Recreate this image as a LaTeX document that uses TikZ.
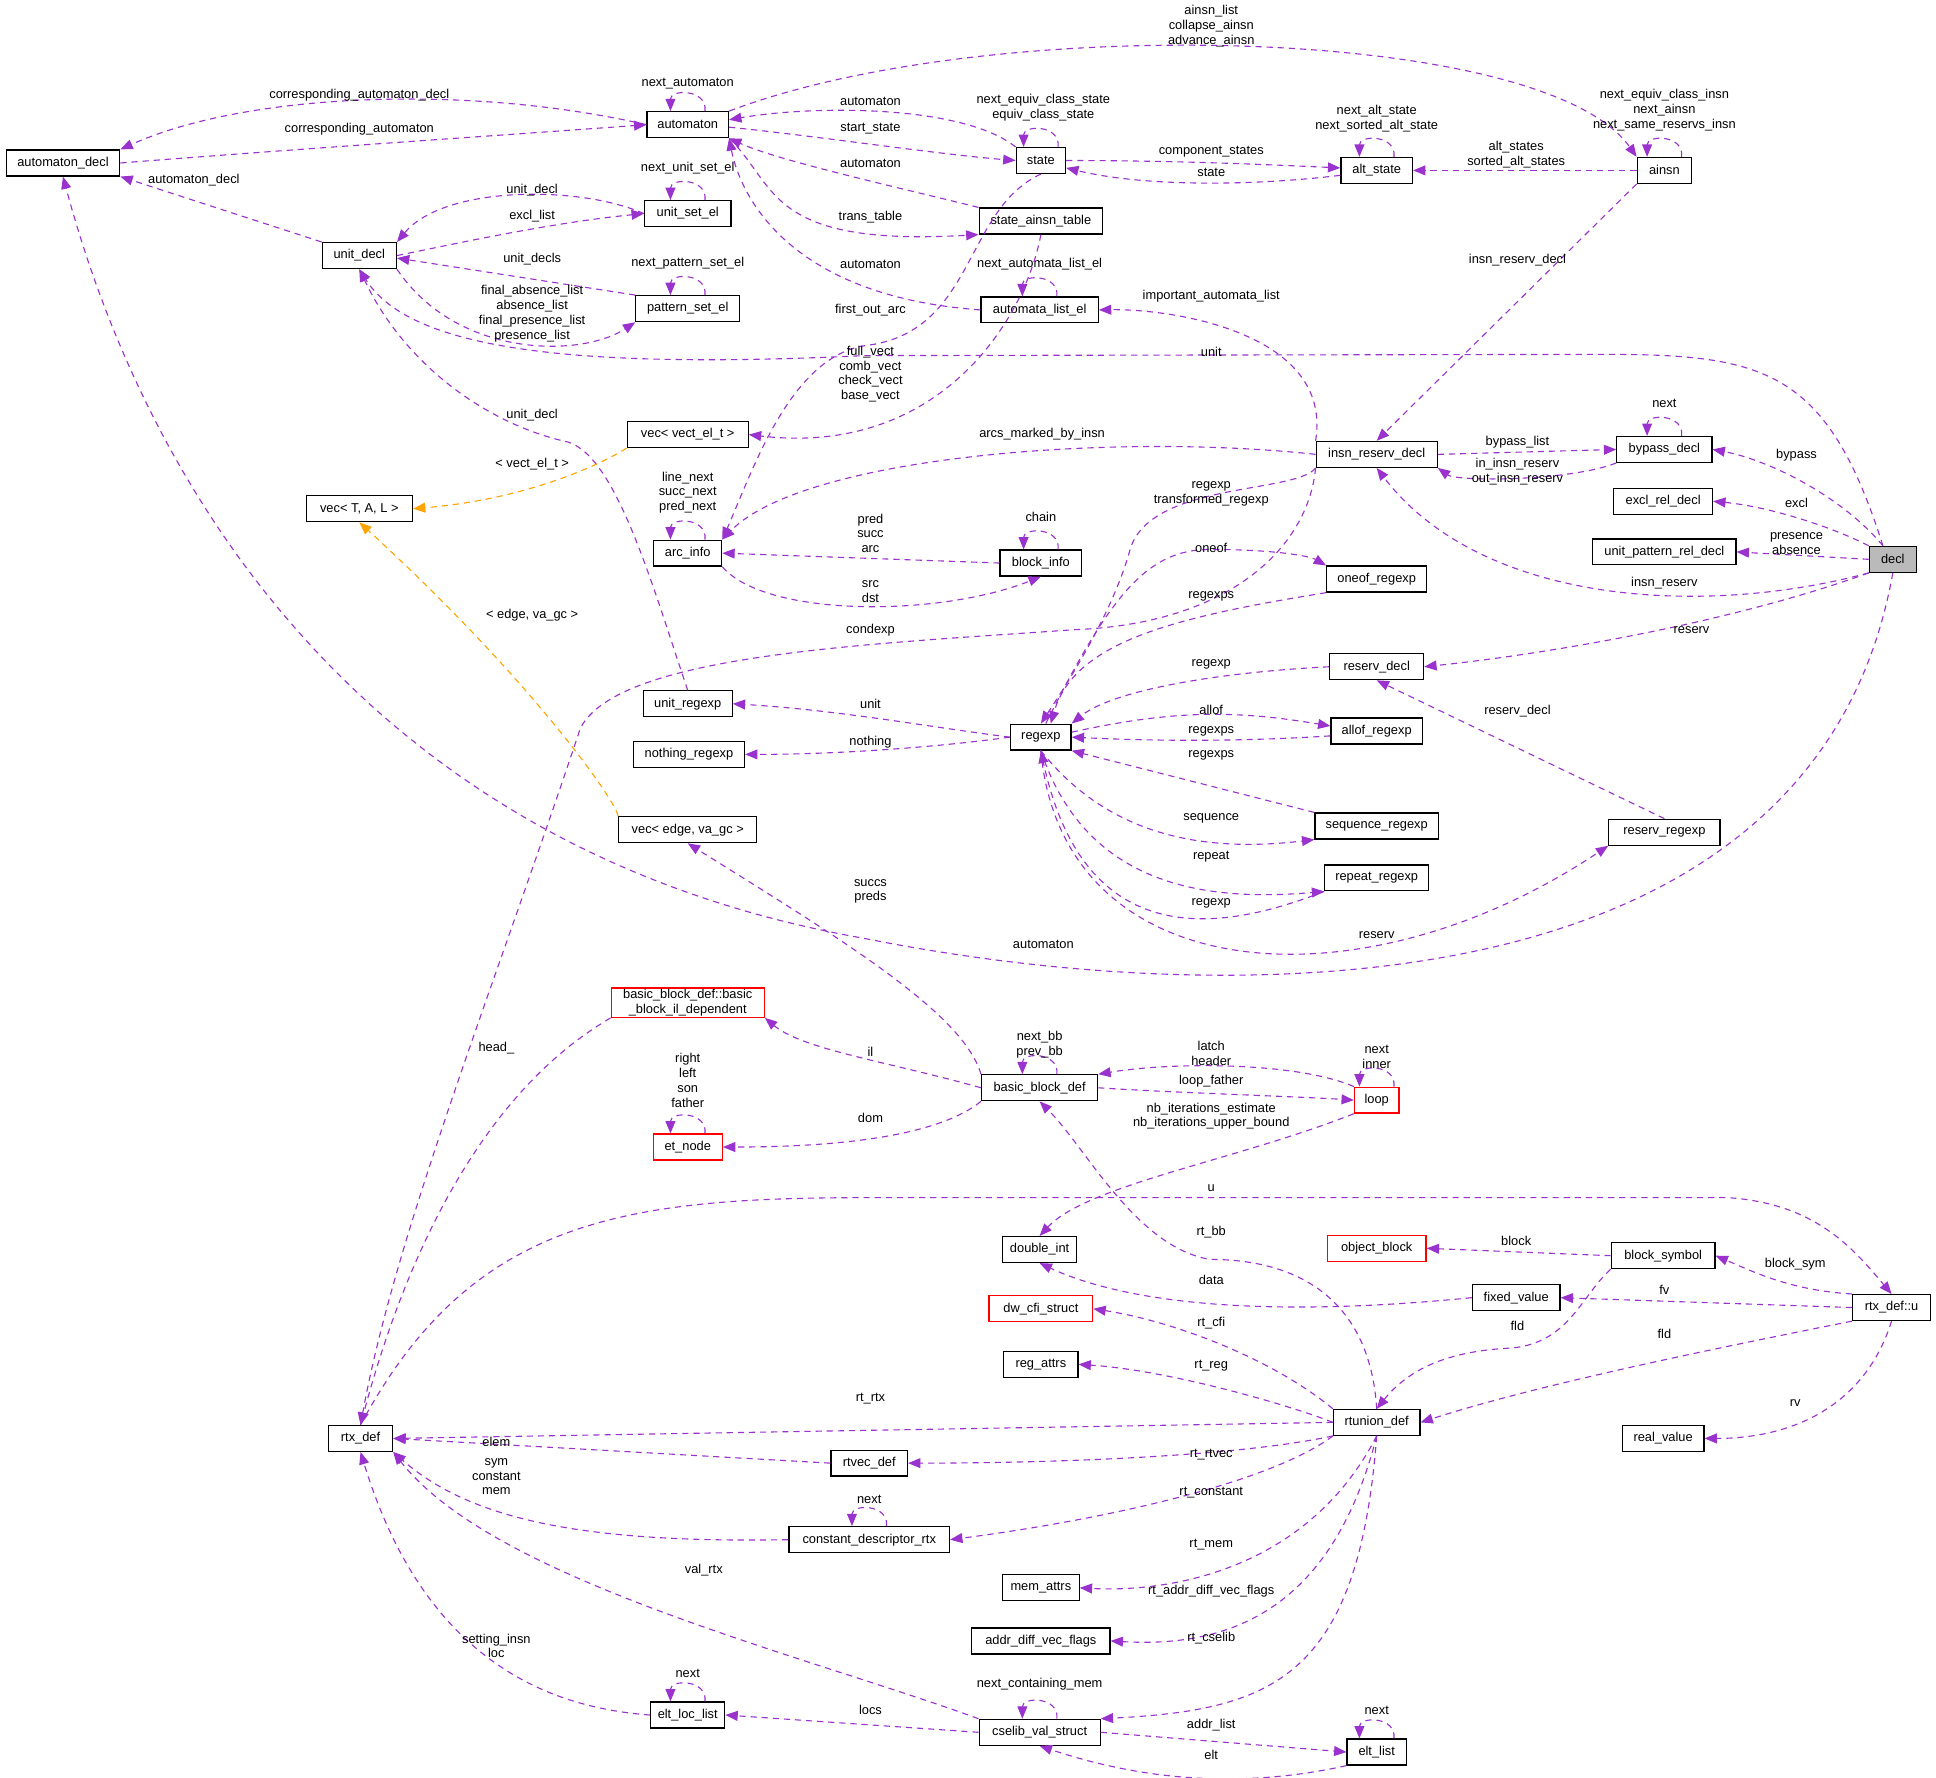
\documentclass[tikz,border=0pt]{standalone}
\usepackage{fontspec}
\setmainfont{Liberation Sans}
\usetikzlibrary{arrows.meta}
\definecolor{pc}{HTML}{9A32CD}
\definecolor{oc}{HTML}{FFA500}
\definecolor{rc}{HTML}{FF0000}
\tikzset{
 box/.style={draw,line width=0.5pt,minimum height=10.5pt,inner sep=0.5pt,font=\fontsize{5.2}{6}\selectfont,fill=white,align=center},
 rbox/.style={box,draw=rc},
 e/.style={draw=pc,dashed,dash pattern=on 2.5pt off 2pt,line width=0.45pt,-{Triangle[width=4pt,length=5pt]}},
 eo/.style={e,draw=oc,-{Triangle[width=4pt,length=5pt,fill=oc]}},
 lbl/.style={font=\fontsize{5.2}{6}\selectfont,align=center,inner sep=0},
}
\newcommand\B[5]{\node[box,minimum width=#4*0.5pt] (#1) at (#2,#3) {#5};}
\newcommand\RB[5]{\node[rbox,minimum width=#4*0.5pt] (#1) at (#2,#3) {#5};}
\newcommand\Lb[4]{\node[lbl] (#1) at (#2,#3) {#4};}
\newcommand\SL[1]{\draw[e] ([xshift=7pt]#1.north) .. controls +(1pt,9pt) and +(0pt,9pt) .. ([xshift=-7pt]#1.north);}
\begin{document}
\begin{tikzpicture}[x=0.5pt,y=-0.5pt]
\useasboundingbox[fill=white] (0,0) rectangle (1568,1440);
% nodes
\B{automatondecl}{51}{132}{92}{automaton\_decl}
\B{automaton}{557}{101}{66}{automaton}
\B{state}{843}{130}{40}{state}
\B{altstate}{1115}{138}{58}{alt\_state}
\B{ainsn}{1348}{138}{44}{ainsn}
\B{unitsetel}{557}{173}{70}{unit\_set\_el}
\B{unitdecl}{291}{207}{60}{unit\_decl}
\B{patternsetel}{557}{250}{84}{pattern\_set\_el}
\B{sat}{843}{179}{100}{state\_ainsn\_table}
\B{ale}{842}{251}{95}{automata\_list\_el}
\B{vecvect}{557}{352}{98}{vec< vect\_el\_t >}
\B{vectal}{291}{412}{86}{vec< T, A, L >}
\B{ird}{1115}{368}{98}{insn\_reserv\_decl}
\B{bypass}{1348}{364}{77}{bypass\_decl}
\B{excl}{1347}{406}{80}{excl\_rel\_decl}
\B{upr}{1348}{447}{116}{unit\_pattern\_rel\_decl}
\node[box,fill=black!27,minimum width=19pt] (decl) at (1533,453) {decl};
\B{arcinfo}{557}{448}{55}{arc\_info}
\B{blockinfo}{843}{456}{66}{block\_info}
\B{oneof}{1115}{469}{81}{oneof\_regexp}
\B{reservdecl}{1115}{540}{76}{reserv\_decl}
\B{unitregexp}{557}{570}{72}{unit\_regexp}
\B{nothing}{558}{611}{90}{nothing\_regexp}
\B{regexp}{843}{597}{49}{regexp}
\B{allof}{1115}{592}{74}{allof\_regexp}
\B{sequence}{1115}{669}{100}{sequence\_regexp}
\B{reservregexp}{1348}{674}{90}{reserv\_regexp}
\B{vecedge}{557}{672}{112}{vec< edge, va\_gc >}
\B{repeat}{1115}{711}{84}{repeat\_regexp}
\RB{bbil}{557}{812}{124}{basic\_block\_def::basic\\\_block\_il\_dependent}
\B{bbd}{842}{881}{94}{basic\_block\_def}
\RB{loop}{1115}{891}{36}{loop}
\RB{etnode}{557}{929}{56}{et\_node}
\B{doubleint}{842}{1012}{60}{double\_int}
\RB{objblock}{1115}{1011}{80}{object\_block}
\B{blocksym}{1347}{1017}{84}{block\_symbol}
\B{fixed}{1228}{1051}{71}{fixed\_value}
\B{rtxu}{1532}{1059}{63}{rtx\_def::u}
\RB{dwcfi}{843}{1060}{84}{dw\_cfi\_struct}
\B{regattrs}{843}{1105}{60}{reg\_attrs}
\B{rtunion}{1115}{1152}{70}{rtunion\_def}
\B{realvalue}{1347}{1165}{66}{real\_value}
\B{rtxdef}{292}{1165}{52}{rtx\_def}
\B{rtvec}{704}{1185}{62}{rtvec\_def}
\B{cdr}{704}{1247}{130}{constant\_descriptor\_rtx}
\B{memattrs}{843}{1286}{62}{mem\_attrs}
\B{adv}{843}{1329}{112}{addr\_diff\_vec\_flags}
\B{eltloc}{557}{1389}{60}{elt\_loc\_list}
\B{cselib}{842}{1403}{98}{cselib\_val\_struct}
\B{eltlist}{1115}{1419}{48}{elt\_list}
% edges top
\draw[e] (automaton.west) .. controls (380,68) and (200,75) .. (automatondecl.north east);
\Lb{l1}{291}{77}{corresponding\_automaton\_decl}
\draw[e] (automatondecl.east) .. controls (250,120) and (400,110) .. (automaton.west);
\Lb{l2}{291}{105}{corresponding\_automaton}
\SL{automaton}\Lb{l3}{557}{68}{next\_automaton}
\draw[e] (automaton.north east) .. controls (800,10) and (1250,20) .. (ainsn.north west);
\Lb{l4}{981}{21}{ainsn\_list\\collapse\_ainsn\\advance\_ainsn}
\draw[e] (state.north west) .. controls (780,85) and (660,85) .. ([yshift=2pt]automaton.east);
\Lb{l5}{705}{82}{automaton}
\draw[e] ([yshift=-1pt]automaton.east) .. controls (660,110) and (760,125) .. (state.west);
\Lb{l6}{705}{104}{start\_state}
\SL{state}\Lb{l7}{845}{87}{next\_equiv\_class\_state\\equiv\_class\_state}
\draw[e] (state.east) .. controls (950,130) and (1020,133) .. ([yshift=1pt]altstate.west);
\Lb{l8}{981}{123}{component\_states}
\draw[e] ([yshift=-2pt]altstate.west) .. controls (1020,150) and (930,152) .. ([yshift=-3pt]state.east);
\Lb{l9}{981}{140}{state}
\SL{altstate}\Lb{l10}{1115}{96}{next\_alt\_state\\next\_sorted\_alt\_state}
\draw[e] (ainsn.west) -- (altstate.east);
\Lb{l11}{1228}{125}{alt\_states\\sorted\_alt\_states}
\SL{ainsn}\Lb{l12}{1348}{89}{next\_equiv\_class\_insn\\next\_ainsn\\next\_same\_reservs\_insn}
\draw[e] (sat.north west) .. controls (720,150) and (630,130) .. (automaton.south east);
\Lb{l13}{705}{132}{automaton}
\draw[e] (automaton.south east) .. controls (630,150) and (620,200) .. (sat.south west);
\Lb{l14}{705}{176}{trans\_table}
\draw[e] (ale.west) .. controls (640,240) and (600,160) .. (automaton.south east);
\Lb{l15}{705}{214}{automaton}
\SL{ale}\Lb{l16}{842}{214}{next\_automata\_list\_el}
\draw[e] (unitdecl.north west) -- (automatondecl.south east);
\Lb{l17}{157}{146}{automaton\_decl}
\draw[e] (unitsetel.west) .. controls (470,150) and (360,150) .. (unitdecl.north east);
\Lb{l18}{431}{154}{unit\_decl}
\draw[e] (unitdecl.east) .. controls (380,195) and (450,180) .. (unitsetel.west);
\Lb{l19}{431}{175}{excl\_list}
\SL{unitsetel}\Lb{l20}{557}{136}{next\_unit\_set\_el}
\draw[e] (patternsetel.north west) -- ([yshift=-1pt]unitdecl.east);
\Lb{l21}{431}{210}{unit\_decls}
\draw[e] (unitdecl.south east) .. controls (370,290) and (470,290) .. (patternsetel.south west);
\Lb{l22}{431}{254}{final\_absence\_list\\absence\_list\\final\_presence\_list\\presence\_list}
\SL{patternsetel}\Lb{l23}{557}{213}{next\_pattern\_set\_el}
\draw[e] ([xshift=-4pt]decl.north) .. controls (1480,300) and (1430,287) .. (1300,287) -- (700,288) .. controls (450,300) and (330,280) .. (unitdecl.south);
\Lb{l24}{981}{285}{unit}
\draw[e] (unitregexp.north) .. controls (530,480) and (500,370) .. (460,358) .. controls (400,345) and (330,300) .. (unitdecl.south);
\Lb{l25}{431}{336}{unit\_decl}
\draw[e] (state.south) .. controls (780,170) and (790,270) .. (700,280) .. controls (640,290) and (610,380) .. (arcinfo.north east);
\Lb{l26}{705}{251}{first\_out\_arc}
\draw[e] (sat.south) .. controls (830,260) and (760,370) .. (vecvect.east);
\Lb{l27}{705}{303}{full\_vect\\comb\_vect\\check\_vect\\base\_vect}
\draw[eo] (vecvect.south west) .. controls (480,380) and (420,405) .. (vectal.east);
\Lb{l28}{431}{376}{< vect\_el\_t >}
\SL{arcinfo}\Lb{l29}{557}{399}{line\_next\\succ\_next\\pred\_next}
\draw[e] (blockinfo.west) -- (arcinfo.east);
\Lb{l30}{705}{432}{pred\\succ\\arc}
\draw[e] (arcinfo.south east) .. controls (620,500) and (760,500) .. (blockinfo.south);
\Lb{l31}{705}{479}{src\\dst}
\SL{blockinfo}\Lb{l32}{843}{419}{chain}
\draw[e] (ird.west) .. controls (900,350) and (650,370) .. (arcinfo.north east);
\Lb{l33}{844}{352}{arcs\_marked\_by\_insn}
\draw[e] (ird.north west) .. controls (1080,270) and (950,250) .. (ale.east);
\Lb{l34}{981}{240}{important\_automata\_list}
\draw[e] (ainsn.south west) -- (ird.north);
\Lb{l35}{1229}{211}{insn\_reserv\_decl}
\draw[e] (ird.east) -- (bypass.west);
\Lb{l36}{1229}{358}{bypass\_list}
\draw[e] (bypass.south west) .. controls (1270,390) and (1180,390) .. (ird.south east);
\Lb{l37}{1229}{382}{in\_insn\_reserv\\out\_insn\_reserv}
\SL{bypass}\Lb{l38}{1348}{327}{next}
\draw[e] ([xshift=-4pt]decl.north) .. controls (1490,400) and (1430,372) .. (bypass.east);
\Lb{l39}{1455}{369}{bypass}
\draw[e] (decl.north west) .. controls (1480,425) and (1430,410) .. (excl.east);
\Lb{l40}{1455}{407}{excl}
\draw[e] (decl.west) -- (upr.east);
\Lb{l41}{1455}{440}{presence\\absence}
\draw[e] (decl.south west) .. controls (1380,500) and (1200,490) .. (ird.south);
\Lb{l42}{1348}{472}{insn\_reserv}
\draw[e] (decl.south west) .. controls (1400,505) and (1250,530) .. (reservdecl.east);
\Lb{l43}{1370}{510}{reserv}
\draw[e] (ird.south west) .. controls (1050,400) and (930,390) .. (915,446) .. controls (900,500) and (860,560) .. (regexp.north);
\Lb{l44}{981}{400}{regexp\\transformed\_regexp}
\draw[e] (ird.south west) .. controls (1060,440) and (1000,505) .. (870,510) .. controls (700,522) and (500,530) .. (470,590) .. controls (400,800) and (320,1000) .. (rtxdef.north);
\Lb{l45}{705}{510}{condexp}
\draw[e] ([xshift=2pt]regexp.north) .. controls (900,480) and (930,445) .. (980,445) .. controls (1030,445) and (1060,450) .. (oneof.north west);
\Lb{l46}{981}{444}{oneof}
\draw[e] (oneof.south west) .. controls (950,500) and (870,520) .. ([xshift=4pt]regexp.north);
\Lb{l47}{981}{483}{regexps}
\draw[e] (reservdecl.west) .. controls (980,545) and (900,560) .. (regexp.north east);
\Lb{l48}{981}{538}{regexp}
\draw[e] (reservregexp.north) -- (reservdecl.south);
\Lb{l49}{1229}{576}{reserv\_decl}
\draw[e] (regexp.west) .. controls (760,590) and (680,575) .. (unitregexp.east);
\Lb{l50}{705}{570}{unit}
\draw[e] (regexp.west) .. controls (760,605) and (680,611) .. (nothing.east);
\Lb{l51}{705}{601}{nothing}
\draw[e] ([yshift=2pt]regexp.east) .. controls (950,575) and (1000,575) .. ([yshift=2pt]allof.west);
\Lb{l52}{981}{575}{allof}
\draw[e] ([yshift=-2pt]allof.west) .. controls (1000,601) and (930,600) .. (regexp.east);
\Lb{l53}{981}{592}{regexps}
\draw[e] (sequence.north west) -- (regexp.south east);
\Lb{l54}{981}{612}{regexps}
\draw[e] (regexp.south) .. controls (900,680) and (980,690) .. (sequence.south west);
\Lb{l55}{981}{663}{sequence}
\draw[e] (regexp.south) .. controls (880,720) and (980,730) .. (repeat.south west);
\Lb{l56}{981}{694}{repeat}
\draw[e] (repeat.south west) .. controls (1000,750) and (880,780) .. (regexp.south);
\Lb{l57}{981}{732}{regexp}
\draw[e] (regexp.south) .. controls (860,800) and (1100,820) .. (reservregexp.south west);
\Lb{l58}{1115}{757}{reserv}
\draw[e] (decl.south) .. controls (1470,820) and (1000,820) .. (700,760) .. controls (300,690) and (120,400) .. (automatondecl.south);
\Lb{l59}{845}{765}{automaton}
% lower part
\draw[eo] (vecedge.north west) .. controls (500,650) and (430,550) .. (vectal.south);
\Lb{l60}{431}{498}{< edge, va\_gc >}
\draw[e] (bbd.north west) .. controls (780,820) and (680,760) .. (vecedge.south);
\Lb{l61}{705}{722}{succs\\preds}
\draw[e] (bbd.west) .. controls (720,860) and (650,850) .. (bbil.south east);
\Lb{l62}{705}{852}{il}
\SL{bbd}\Lb{l63}{842}{846}{next\_bb\\prev\_bb}
\draw[e] (bbd.south west) .. controls (760,920) and (680,929) .. (etnode.east);
\Lb{l64}{705}{905}{dom}
\SL{etnode}\Lb{l65}{557}{875}{right\\left\\son\\father}
\draw[e] (loop.north west) .. controls (1050,860) and (950,860) .. (bbd.north east);
\Lb{l66}{981}{853}{latch\\header}
\draw[e] (bbd.east) .. controls (950,885) and (1050,888) .. (loop.west);
\Lb{l67}{981}{876}{loop\_father}
\SL{loop}\Lb{l68}{1115}{856}{next\\inner}
\draw[e] (loop.south west) .. controls (1000,940) and (880,960) .. (doubleint.north);
\Lb{l69}{981}{904}{nb\_iterations\_estimate\\nb\_iterations\_upper\_bound}
\draw[e] (bbil.south west) .. controls (470,840) and (360,900) .. (rtxdef.north);
\Lb{l70}{402}{849}{head\_}
\draw[e] (rtxdef.north) .. controls (380,990) and (500,970) .. (700,970) -- (1400,970) .. controls (1470,975) and (1500,1010) .. (rtxu.north);
\Lb{l71}{981}{962}{u}
\draw[e] (rtunion.north) .. controls (1110,1060) and (1060,1020) .. (980,1020) .. controls (920,1010) and (880,930) .. (bbd.south);
\Lb{l72}{981}{998}{rt\_bb}
\draw[e] (blocksym.west) -- (objblock.east);
\Lb{l73}{1228}{1005}{block}
\draw[e] (rtxu.north west) .. controls (1450,1045) and (1420,1030) .. (blocksym.east);
\Lb{l74}{1454}{1024}{block\_sym}
\draw[e] (fixed.west) .. controls (1000,1070) and (900,1050) .. (doubleint.south);
\Lb{l75}{981}{1037}{data}
\draw[e] (rtxu.west) -- (fixed.east);
\Lb{l76}{1348}{1045}{fv}
\draw[e] (blocksym.south west) .. controls (1280,1050) and (1270,1090) .. (1220,1092) .. controls (1170,1095) and (1140,1110) .. (rtunion.north);
\Lb{l77}{1229}{1074}{fld}
\draw[e] (rtxu.south west) .. controls (1400,1090) and (1250,1120) .. (rtunion.east);
\Lb{l78}{1348}{1080}{fld}
\draw[e] (rtxu.south) .. controls (1510,1140) and (1450,1165) .. (realvalue.east);
\Lb{l79}{1454}{1136}{rv}
\draw[e] (rtunion.north west) .. controls (1030,1100) and (950,1070) .. (dwcfi.east);
\Lb{l80}{981}{1072}{rt\_cfi}
\draw[e] (rtunion.west) .. controls (1050,1140) and (950,1110) .. (regattrs.east);
\Lb{l81}{981}{1106}{rt\_reg}
\draw[e] (rtunion.west) -- (rtxdef.east);
\Lb{l82}{705}{1133}{rt\_rtx}
\draw[e] (rtunion.south west) .. controls (1000,1180) and (850,1185) .. (rtvec.east);
\Lb{l83}{981}{1178}{rt\_rtvec}
\draw[e] (rtunion.south west) .. controls (1030,1200) and (900,1230) .. (cdr.east);
\Lb{l84}{981}{1209}{rt\_constant}
\draw[e] (rtunion.south) .. controls (1060,1270) and (950,1290) .. (memattrs.east);
\Lb{l85}{981}{1251}{rt\_mem}
\draw[e] (rtunion.south) .. controls (1080,1300) and (1000,1335) .. (adv.east);
\Lb{l86}{981}{1289}{rt\_addr\_diff\_vec\_flags}
\draw[e] (rtunion.south) .. controls (1100,1360) and (1030,1385) .. (cselib.north east);
\Lb{l87}{981}{1327}{rt\_cselib}
\draw[e] (rtvec.west) -- (rtxdef.east);
\Lb{l88}{402}{1168}{elem}
\draw[e] (cdr.west) .. controls (470,1250) and (380,1230) .. (rtxdef.south east);
\Lb{l89}{402}{1196}{sym\\constant\\mem}
\SL{cdr}\Lb{l90}{704}{1214}{next}
\draw[e] (cselib.north west) .. controls (650,1340) and (400,1280) .. (rtxdef.south east);
\Lb{l91}{570}{1272}{val\_rtx}
\draw[e] (eltloc.west) .. controls (400,1380) and (330,1300) .. (rtxdef.south);
\Lb{l92}{402}{1333}{setting\_insn\\loc}
\SL{eltloc}\Lb{l93}{557}{1355}{next}
\draw[e] (cselib.west) -- (eltloc.east);
\Lb{l94}{705}{1385}{locs}
\SL{cselib}\Lb{l95}{842}{1364}{next\_containing\_mem}
\draw[e] (cselib.east) -- (eltlist.west);
\Lb{l96}{981}{1397}{addr\_list}
\draw[e] (eltlist.south west) .. controls (1000,1450) and (920,1440) .. (cselib.south);
\Lb{l97}{981}{1421}{elt}
\SL{eltlist}\Lb{l98}{1115}{1385}{next}
\end{tikzpicture}
\end{document}
